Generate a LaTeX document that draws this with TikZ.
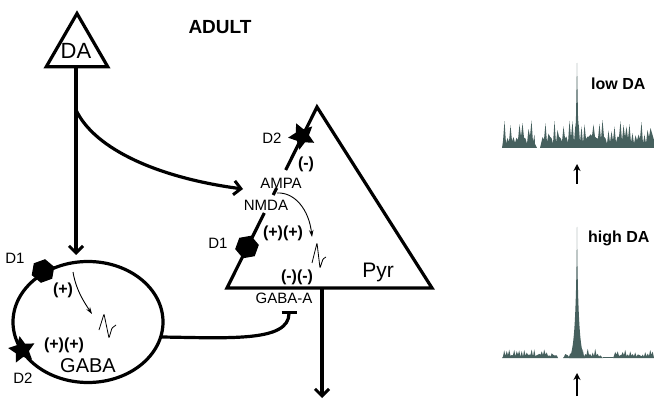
\documentclass[tikz,border=0pt]{standalone}
\usepackage{fontspec}
\setmainfont{Liberation Sans}
\usetikzlibrary{arrows.meta,shapes.geometric}
\definecolor{tracecol}{RGB}{70,96,94}
\begin{document}
\begin{tikzpicture}[x=1pt,y=-1pt,
  heavy/.style={line width=3.2pt},
  axon/.style={line width=3.2pt,-{Straight Barb[length=7pt,width=14pt,line width=3pt]}},
  inhib/.style={line width=3.2pt,-{Bar[width=15pt,line width=3.2pt]}},
  fine arrow/.style={line width=0.9pt,-{Stealth[length=7pt,width=4.5pt]}},
  spike/.style={line width=0.8pt,rounded corners=0.8pt},
  lbl/.style={inner sep=0pt,font=\fontsize{15}{17}\selectfont},
  sign/.style={inner sep=0pt,font=\bfseries\fontsize{16}{18}\selectfont},
  big/.style={inner sep=0pt,font=\fontsize{21}{24}\selectfont},
  hexa/.style={regular polygon,regular polygon sides=6,fill=black,inner sep=0pt,minimum size=#1},
  starmark/.style={star,star points=5,star point ratio=2.0,fill=black,inner sep=0pt,minimum size=#1},
  trace/.style={fill=tracecol},
  marker/.style={line width=1.6pt,-{Stealth[length=7pt,width=7pt]}}
]
\useasboundingbox (0,0) rectangle (654,401);

% ---------------- title ----------------
\node[inner sep=0pt,font=\bfseries\fontsize{19}{22}\selectfont] (title) at (220,27) {ADULT};

% ---------------- dopamine neuron ----------------
\node[regular polygon,regular polygon sides=3,draw,line width=3.2pt,
      minimum size=71pt,inner sep=0pt] (da) at (77,49) {};
\node[inner sep=0pt,font=\fontsize{22}{25}\selectfont] (dalabel) at (76,51) {DA};
\coordinate (daBase) at (76,67);
\coordinate (daBranch) at (76,110);
\coordinate (gabaIn) at (76,255);
\coordinate (ampaIn) at (243,189);
\draw[axon] (daBase) -- (gabaIn);
\draw[axon] (daBranch) .. controls (95,150) and (160,178) .. (ampaIn);

% ---------------- pyramidal neuron ----------------
\coordinate (pApex) at (317,107);
\coordinate (pL) at (227,288);
\coordinate (pR) at (432,288);
\coordinate (pGapA) at (285.7,170);
\coordinate (pMidA) at (276.7,188);
\coordinate (pMidB) at (273.2,195);
\coordinate (pGapB) at (264.3,213);
\draw[heavy,line join=miter] (pGapA) -- (pApex) -- (pR) -- (pL) -- (pGapB);
\draw[heavy] (pMidB) -- (pMidA);
\node[starmark=28pt,rotate=25] (pyrD2) at (302,136) {};
\node[hexa=24pt,rotate=10] (pyrD1) at (247,247) {};

\node[lbl] (pD2lbl) at (272,138) {D2};
\node[sign] (pMinus) at (306,164) {(-)};
\node[lbl] (ampa) at (281,183) {AMPA};
\node[lbl] (nmda) at (266,205) {NMDA};
\node[lbl] (pD1lbl) at (218,243) {D1};
\node[sign] (pPlus) at (283,233) {(+)(+)};
\node[sign] (pMinus2) at (297,277) {(-)(-)};
\node[big] (pyr) at (378,272) {Pyr};
\node[lbl] (gabaA) at (284,298) {GABA-A};

% synaptic current and response in the pyramidal cell
\coordinate (pCurFrom) at (277,193);
\coordinate (pCurTo) at (312,237);
\draw[fine arrow] (pCurFrom) .. controls (295,192) and (309,210) .. (pCurTo);
\draw[spike] (312,263) -- (317,243) -- (320,268) -- (323,259) -- (326,257);

% axon of the pyramidal cell
\coordinate (pAxon) at (322,288);
\coordinate (pOut) at (322,398);
\draw[axon] (pAxon) -- (pOut);

% ---------------- GABA interneuron ----------------
\node[ellipse,draw,line width=3.2pt,minimum width=150pt,minimum height=121pt,
      inner sep=0pt] (gaba) at (88,322) {};
\node[hexa=24pt,rotate=20] (gabaD1) at (43,271) {};
\node[starmark=28pt,rotate=10] (gabaD2) at (22,350) {};
\node[lbl] (gD1lbl) at (15,258) {D1};
\node[lbl] (gD2lbl) at (23,378) {D2};
\node[sign] (gPlus) at (63,290) {(+)};
\node[sign] (gPlus2) at (64,345) {(+)(+)};
\node[big,font=\fontsize{20}{23}\selectfont] (gabaLbl) at (88,366) {GABA};

\coordinate (gCurFrom) at (73,272);
\coordinate (gCurTo) at (92,314);
\draw[fine arrow] (gCurFrom) .. controls (76,290) and (84,302) .. (gCurTo);
\draw[spike] (99,330) -- (104,314) -- (109,338) -- (112,328) -- (116,325);

% inhibitory projection onto the pyramidal cell
\coordinate (gOut) at (161,337);
\coordinate (gabaSyn) at (289,311);
\draw[inhib] (gOut) .. controls (230,338) and (289,342) .. (gabaSyn);

% ---------------- recordings ----------------
\pgfmathsetseed{17}
% low dopamine
\fill[trace] (502,148) \foreach \x in {503,506,...,533} {
   -- (\x,{148-4-8*rnd}) -- (\x+1.5,{148-9-19*pow(rnd,1.2)}) } -- (535,144) -- (537,148) -- cycle;
\fill[trace] (540,148) \foreach \x in {541,544,...,650} {
   -- (\x,{148-4-8*rnd}) -- (\x+1.5,{148-9-19*pow(rnd,1.2)}) } -- (654,140) -- (654,148) -- cycle;
\fill[trace] (575.4,148) -- (577,63) -- (578.6,148) -- cycle;
\node[inner sep=0pt,anchor=west,font=\bfseries\fontsize{16}{19}\selectfont] (lowlbl) at (591,84) {low DA};
\coordinate (lowFrom) at (577,184);
\coordinate (lowTo) at (577,164);
\draw[marker] (lowFrom) -- (lowTo);

% high dopamine
\fill[trace] (502,358) \foreach \x in {503,505.5,...,556} {
   -- (\x,{358-1-2.5*rnd}) -- (\x+1.2,{358-2.5-7*pow(rnd,1.5)}) } -- (558,358) -- cycle;
\fill[trace] (563,358) \foreach \x in {564,566.5,...,601} {
   -- (\x,{358-1-2.5*rnd}) -- (\x+1.2,{358-2.5-8*pow(rnd,1.5)}) } -- (603,358) -- cycle;
\fill[trace] (603,358) rectangle (613,356.6);
\fill[trace] (613,358) \foreach \x in {614,616.5,...,652} {
   -- (\x,{358-1-2.5*rnd}) -- (\x+1.2,{358-2.5-6*pow(rnd,1.5)}) } -- (654,358) -- cycle;
\fill[trace] (569,358) .. controls (575,352) and (576.3,300) .. (577,227)
   .. controls (577.7,300) and (579,352) .. (585,358) -- cycle;
\node[inner sep=0pt,anchor=west,font=\bfseries\fontsize{16}{19}\selectfont] (highlbl) at (588,238) {high DA};
\coordinate (highFrom) at (577,396);
\coordinate (highTo) at (577,373);
\draw[marker] (highFrom) -- (highTo);
\end{tikzpicture}
\end{document}
